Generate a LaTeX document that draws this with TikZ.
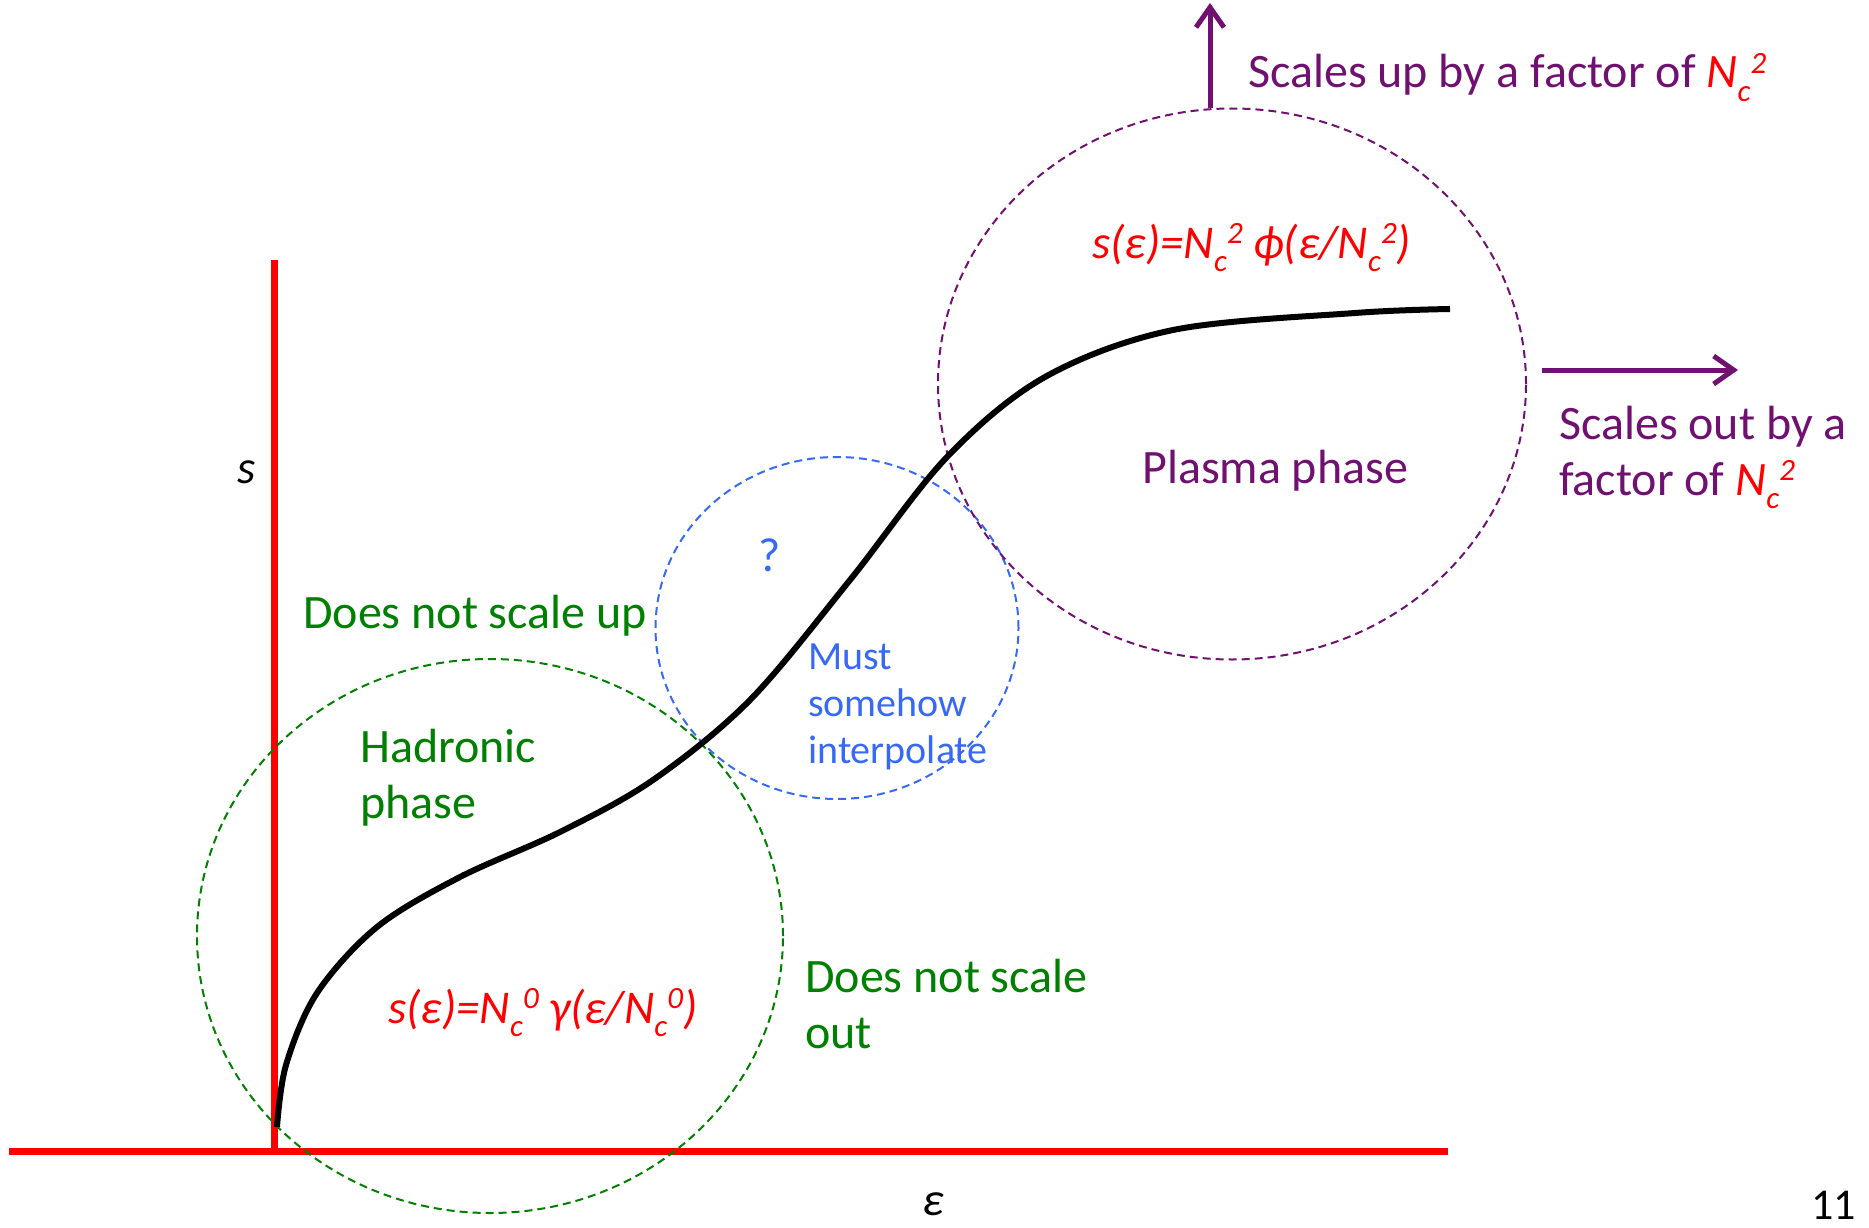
\documentclass[tikz,border=0pt]{standalone}
\usepackage{fontspec}
\setmainfont{Carlito}
\usetikzlibrary{arrows.meta,shapes.geometric}
\definecolor{plum}{RGB}{112,16,112}
\definecolor{grn}{RGB}{0,128,0}
\definecolor{blu}{RGB}{55,105,245}
\definecolor{rd}{RGB}{255,0,0}
\newcommand\Nc[1]{N\raisebox{-0.29em}{\fontsize{31}{31}\selectfont c}\raisebox{0.30em}{\fontsize{31}{31}\selectfont #1}}
\begin{document}
\begin{tikzpicture}[x=1pt,y=-1pt,
  big/.style={font=\fontsize{48}{56}\selectfont, inner sep=0pt, anchor=base west, align=left},
  bigit/.style={font=\fontsize{47}{56}\selectfont\itshape, inner sep=0pt, anchor=base west},
  small/.style={font=\fontsize{40}{47}\selectfont, inner sep=0pt, anchor=base west, align=left},
  zone/.style={ellipse, draw, line width=2pt, dash pattern=on 8pt off 5pt, inner sep=0pt},
  axisline/.style={draw=rd, line width=7pt},
  scalearrow/.style={draw=plum, line width=5pt, -{Straight Barb[length=20pt,width=28pt]}}]
\useasboundingbox (0,0) rectangle (1869,1228);
% axes
\coordinate (origin) at (274,1151);
\coordinate (xend) at (1448,1151);
\coordinate (xstart) at (9,1151);
\coordinate (ytop) at (274,260);
\draw[axisline] (xstart) -- (xend);
\draw[axisline] (origin) -- (ytop);
% zones
\node[zone, draw=grn, minimum width=586pt, minimum height=554pt] (hadron) at (490,936) {};
\node[zone, draw=blu, minimum width=363pt, minimum height=342pt] (mid) at (837,628) {};
\node[zone, draw=plum, minimum width=588pt, minimum height=551pt] (plasma) at (1232,384) {};
% curve
\draw[line width=6pt] plot[smooth, tension=0.55] coordinates {(277,1127) (286,1065) (317,993) (377,927) (460,877) (560,832) (653,780) (750,700) (850,580) (947,457) (1045,377) (1173,330) (1355,313) (1450,309)};
% arrows
\coordinate (upbase) at (1210,108);
\coordinate (uptip) at (1210,3);
\coordinate (rbase) at (1542,370);
\coordinate (rtip) at (1738,370);
\draw[scalearrow] (upbase) -- (uptip);
\draw[scalearrow] (rbase) -- (rtip);
% labels
\node[big, text=plum] (uplab) at (1248,88) {Scales up by a factor of \textcolor{rd}{\itshape\Nc{2}}};
\node[bigit, text=rd] (plform) at (1092,258) {s(ε)=\Nc{2} ϕ(ε/\Nc{2})};
\node[big, text=plum] (pllab) at (1142,483) {Plasma phase};
\node[big, text=plum] (outlab) at (1559,495) {Scales out by a\\factor of \textcolor{rd}{\itshape\Nc{2}}};
\node[big, text=blu] (q) at (758,571) {?};
\node[small, text=blu] (interp) at (808,763) {Must\\somehow\\interpolate};
\node[big, text=grn] (nsu) at (303,628) {Does not scale up};
\node[big, text=grn] (hadlab) at (360,818) {Hadronic\\phase};
\node[bigit, text=rd] (hform) at (388,1023) {s(ε)=\Nc{0} γ(ε/\Nc{0})};
\node[big, text=grn] (nso) at (805,1048) {Does not scale\\out};
\node[bigit, text=black] (slab) at (237,483) {s};
\node[bigit, text=black] (elab) at (922,1215) {ε};
\node[big, text=black, font=\fontsize{44}{50}\selectfont] (pnum) at (1811,1219) {11};
\end{tikzpicture}
\end{document}
